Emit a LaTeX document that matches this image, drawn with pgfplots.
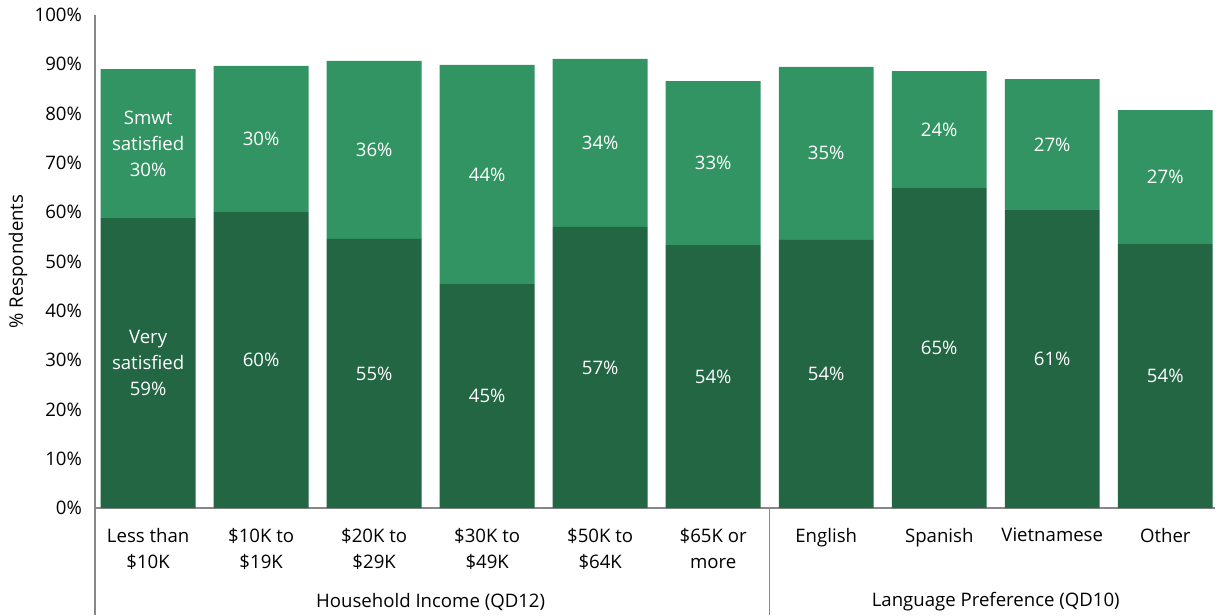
\documentclass[border=0pt]{standalone}
\usepackage{pgfplots}
\pgfplotsset{compat=1.18}
\usepackage{fontspec}
\setmainfont{Open Sans}
\definecolor{lightg}{RGB}{50,148,99}
\definecolor{darkg}{RGB}{34,102,67}
\definecolor{axgray}{RGB}{135,135,135}
\newcommand{\ff}{\fontsize{9.3}{13}\selectfont}
\begin{document}
\begin{tikzpicture}
\useasboundingbox (-47.5pt,-53.5pt) rectangle (561.5pt,254pt);
\begin{axis}[
  at={(0,0)}, anchor=south west,
  scale only axis, width=560pt, height=246.5pt,
  ybar stacked, bar width=0.84,
  xmin=-0.47, xmax=9.44, ymin=0, ymax=100,
  enlargelimits=false, clip=false,
  axis lines*=left,
  axis line style={draw=axgray, line width=0.6pt},
  major tick length=0pt,
  ytick={0,10,...,100},
  yticklabel={\pgfmathprintnumber{\tick}\%},
  /pgf/number format/assume math mode=true,
  font=\ff,
  ticklabel style={font=\ff},
  yticklabel style={xshift=-3pt},
  xtick={0,...,9},
  xticklabels={{Less than\\\$10K},{\$10K to\\\$19K},{\$20K to\\\$29K},{\$30K to\\\$49K},{\$50K to\\\$64K},{\$65K or\\more},English,Spanish,Vietnamese,Other},
  xticklabel style={align=center, yshift=-6.5pt},
  every axis y label/.style={at={(axis description cs:0,0.5)}, xshift=-38.5pt, rotate=90, anchor=center},
  ylabel={\% Respondents},
  nodes near coords,
  point meta=explicit symbolic,
  every node near coord/.append style={anchor=center, text=white, align=center, font=\ff},
]
\addplot[fill=darkg, draw=none]
  table[x=x, y=v, meta=lab] {
x v lab
0 58.8 {Very\\satisfied\\59\%}
1 60.0 {60\%}
2 54.6 {55\%}
3 45.4 {45\%}
4 57.0 {57\%}
5 53.3 {54\%}
6 54.4 {54\%}
7 64.9 {65\%}
8 60.4 {61\%}
9 53.5 {54\%}
};
\addplot[fill=lightg, draw=none]
  table[x=x, y=v, meta=lab] {
x v lab
0 30.2 {Smwt\\satisfied\\30\%}
1 29.7 {30\%}
2 36.1 {36\%}
3 44.5 {44\%}
4 34.1 {34\%}
5 33.3 {33\%}
6 35.1 {35\%}
7 23.7 {24\%}
8 26.6 {27\%}
9 27.2 {27\%}
};
\draw[axgray, line width=0.6pt] (rel axis cs:0,0) -- ([yshift=-53.5pt]rel axis cs:0,0);
\draw[axgray, line width=0.6pt] (axis cs:5.5,0) -- ([yshift=-53.5pt]axis cs:5.5,0);
\node[font=\ff] at ([yshift=-47pt]axis cs:2.5,0) {Household Income (QD12)};
\node[font=\ff] at ([yshift=-47pt]axis cs:7.5,0) {Language Preference (QD10)};
\end{axis}
\end{tikzpicture}
\end{document}
